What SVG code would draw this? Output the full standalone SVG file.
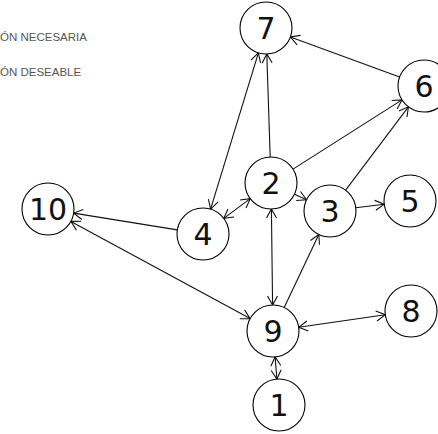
<svg xmlns="http://www.w3.org/2000/svg" width="438" height="434" viewBox="0 0 438 434">
<style>
.node circle{fill:#fff;stroke:#000;stroke-width:1.1}
.node text{font-family:"DejaVu Sans",sans-serif;font-size:30px;fill:#111;text-anchor:middle}
.legend{font-family:"Liberation Sans",Arial,sans-serif;font-size:11.5px;fill:#555}
#connectors line{stroke:#111;stroke-width:1.1;fill:none}
.a{marker-end:url(#arr)}
.b{marker-end:url(#arr);marker-start:url(#arr)}
</style>
<defs>
<marker id="arr" markerUnits="userSpaceOnUse" markerWidth="14" markerHeight="14" refX="10" refY="6" orient="auto-start-reverse" viewBox="0 0 14 12">
<path d="M1,1 L10,6 L1,11" fill="none" stroke="#111" stroke-width="1.1"/>
</marker>
</defs>
<rect width="438" height="434" fill="#fff"/>
<text class="legend" x="0" y="41">ÓN NECESARIA</text>
<text class="legend" x="0" y="76">ÓN DESEABLE</text>
<g id="connectors">
<line class="a" x1="399.6" y1="77" x2="290.4" y2="37"/>
<line class="a" x1="270.2" y1="157" x2="266.8" y2="54"/>
<line class="b" x1="210.6" y1="209.1" x2="258.4" y2="52.9"/>
<line class="a" x1="293" y1="169.1" x2="402" y2="99.9"/>
<line class="a" x1="345.6" y1="190.2" x2="408.4" y2="106.8"/>
<line class="b" x1="250.2" y1="198.6" x2="223.8" y2="218.4"/>
<line class="a" x1="294.5" y1="194.2" x2="306.5" y2="199.8"/>
<line class="a" x1="355.8" y1="207.8" x2="384.2" y2="204.2"/>
<line class="a" x1="177.3" y1="229.9" x2="73.7" y2="213.1"/>
<line class="b" x1="250.1" y1="318.6" x2="70.9" y2="221.4"/>
<line class="b" x1="271.4" y1="209" x2="272.6" y2="305"/>
<line class="a" x1="284.2" y1="307.5" x2="318.8" y2="234.5"/>
<line class="b" x1="298.7" y1="327.3" x2="385.3" y2="314.7"/>
<line class="b" x1="275.1" y1="356.9" x2="276.9" y2="379.1"/>
</g>
<g id="n1" class="node"><circle cx="279" cy="405" r="26"/><text x="279" y="416">1</text></g>
<g id="n2" class="node"><circle cx="271" cy="183" r="26"/><text x="271" y="194">2</text></g>
<g id="n3" class="node"><circle cx="330" cy="211" r="26"/><text x="330" y="222">3</text></g>
<g id="n4" class="node"><circle cx="203" cy="234" r="26"/><text x="203" y="245">4</text></g>
<g id="n5" class="node"><circle cx="410" cy="201" r="26"/><text x="410" y="212">5</text></g>
<g id="n6" class="node"><circle cx="424" cy="86" r="26"/><text x="424" y="97">6</text></g>
<g id="n7" class="node"><circle cx="266" cy="28" r="26"/><text x="266" y="39">7</text></g>
<g id="n8" class="node"><circle cx="411" cy="311" r="26"/><text x="411" y="322">8</text></g>
<g id="n9" class="node"><circle cx="273" cy="331" r="26"/><text x="273" y="342">9</text></g>
<g id="n10" class="node"><circle cx="48" cy="209" r="26"/><text x="48" y="220">10</text></g>
</svg>
